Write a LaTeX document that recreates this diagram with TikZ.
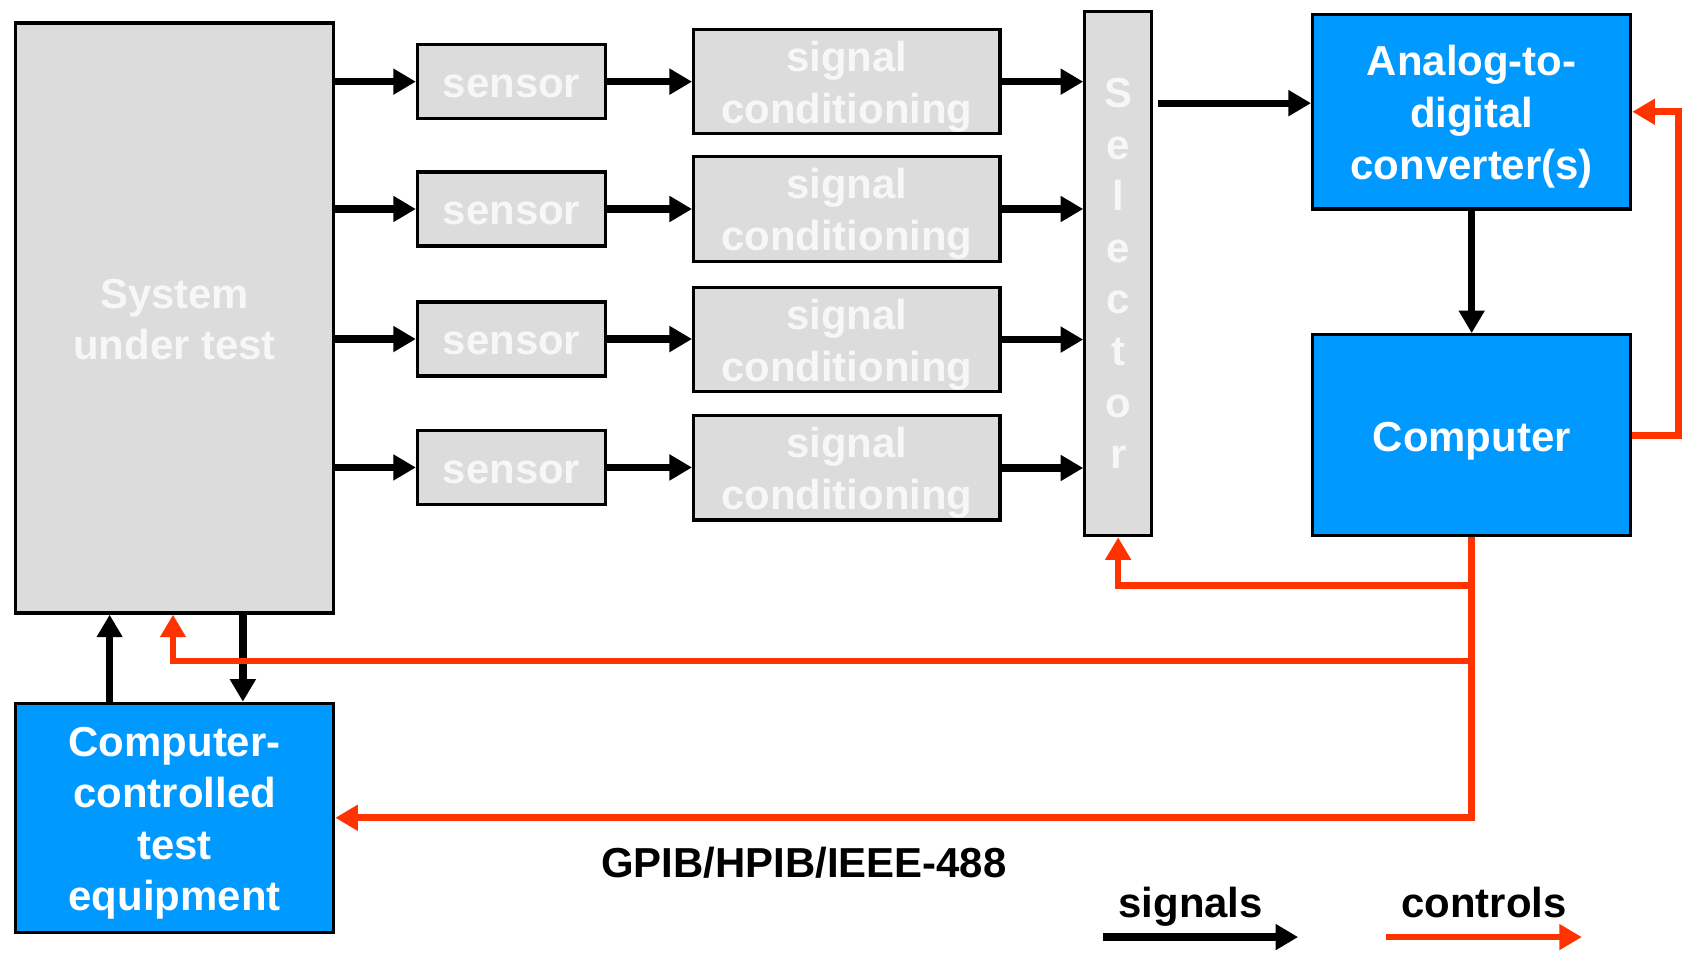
\documentclass[tikz,border=0pt]{standalone}
\usepackage{fontspec}
\setmainfont{Liberation Sans}
\usetikzlibrary{arrows.meta}
\definecolor{boxgray}{HTML}{DCDCDC}
\definecolor{ghost}{HTML}{F7F7F7}
\definecolor{panelblue}{HTML}{0099FF}
\definecolor{ctlred}{HTML}{FF3300}
% fixed struts so every block label sits at the same height in its box
\newcommand\blkTop{\rule{0pt}{18.8pt}}
\newcommand\blkBot{\rule[-4.1pt]{0pt}{4.1pt}}

\begin{document}
\begin{tikzpicture}[x=0.5pt,y=-0.5pt,
  every node/.style={font=\bfseries\fontsize{19.5}{24}\selectfont, inner sep=0pt},
  block/.style={draw=black, line width=1.5pt, rectangle, align=center},
  graybox/.style={block, fill=boxgray, text=ghost},
  bluebox/.style={block, fill=panelblue, text=white},
  wide/.style={minimum width=148pt},
  sensorbox/.style={graybox, minimum width=87.5pt, minimum height=34.5pt},
  condbox/.style={graybox, minimum width=142.5pt, minimum height=48.5pt},
  sig/.style={draw=black, line width=3.4pt, -{Triangle[length=10.5pt,width=11.5pt]}},
  ctl/.style={draw=ctlred, line width=3.1pt, -{Triangle[length=10.5pt,width=11.5pt]}}
]
\useasboundingbox (0,0) rectangle (1568,886);

% system under test and test equipment
\node[graybox, wide, minimum height=274.5pt] (sut) at (162.5,296) {\blkTop System\\under test\blkBot};
\node[bluebox, wide, minimum height=106.5pt] (cte) at (162.5,761) {\blkTop Computer-\\controlled\\test\\equipment\blkBot};

% sensor chains
\node[sensorbox] (s1) at (476,76) {\blkTop sensor\blkBot};
\node[sensorbox] (s2) at (476,194.5) {\blkTop sensor\blkBot};
\node[sensorbox] (s3) at (476,315.5) {\blkTop sensor\blkBot};
\node[sensorbox] (s4) at (476,435) {\blkTop sensor\blkBot};

\node[condbox] (c1) at (788,76) {\blkTop signal\\conditioning\blkBot};
\node[condbox] (c2) at (788,194.5) {\blkTop signal\\conditioning\blkBot};
\node[condbox] (c3) at (788,316) {\blkTop signal\\conditioning\blkBot};
\node[condbox] (c4) at (788,435.5) {\blkTop signal\\conditioning\blkBot};

% multiplexer
\node[graybox, minimum width=31pt, minimum height=244pt] (sel) at (1040.5,254.5)
      {S\\e\\l\\e\\c\\t\\o\\r};

% acquisition side
\node[bluebox, wide, minimum height=90.5pt] (adc) at (1369.5,104) {\blkTop Analog-to-\\digital\\converter(s)\blkBot};
\node[bluebox, wide, minimum height=93.5pt] (comp) at (1369.5,405) {\blkTop Computer\blkBot};

% signal paths
\foreach \i in {1,...,4} {
  \draw[sig] (sut.east |- s\i.west) -- (s\i.west);
  \draw[sig] (s\i.east) -- (c\i.west |- s\i.east);
  \draw[sig] (c\i.east) -- (sel.west |- c\i.east);
}
\coordinate (selout) at (1078,96);
\draw[sig] (selout) -- (adc.west |- selout);
\draw[sig] (adc.south) -- (comp.north);
\draw[sig] (cte.north -| 102,0) -- (sut.south -| 102,0);
\draw[sig] (sut.south -| 226,0) -- (cte.north -| 226,0);

% control paths
\draw[ctl] (comp.east) -- ++(43,0) |- (adc.east);
\draw[ctl] (comp.south) |- (cte.east);
\draw[ctl] (comp.south |- 0,545) -| (sel.south);
\draw[ctl] (comp.south |- 0,615) -| (sut.south -| 161,0);

% bus label
\node[anchor=base] (bus) at (748,817) {GPIB/HPIB/IEEE-488};

% legend
\node[anchor=base] (lsig) at (1108,854) {signals};
\coordinate (ls0) at (1026,872);
\coordinate (ls1) at (1208,872);
\draw[sig] (ls0) -- (ls1);
\node[anchor=base] (lctl) at (1381,854) {controls};
\coordinate (lc0) at (1290,872);
\coordinate (lc1) at (1472,872);
\draw[ctl] (lc0) -- (lc1);
\end{tikzpicture}
\end{document}
